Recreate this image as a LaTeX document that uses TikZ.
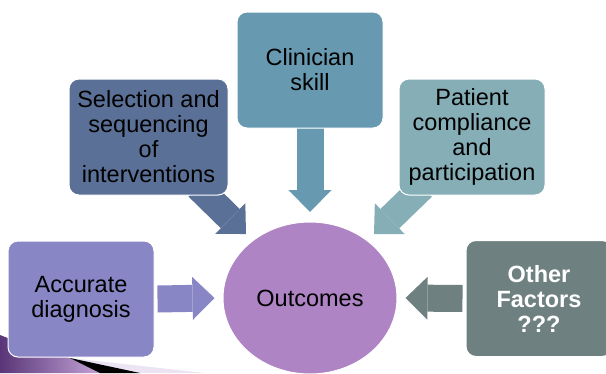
\documentclass[tikz,border=0pt]{standalone}
\usepackage{fontspec}
\setmainfont{Liberation Sans}
\usetikzlibrary{calc,backgrounds,shapes}
\definecolor{selcol}{HTML}{5B7096}
\definecolor{clincol}{HTML}{6799B0}
\definecolor{patcol}{HTML}{85AEB6}
\definecolor{acccol}{HTML}{8986C6}
\definecolor{othcol}{HTML}{6F8080}
\definecolor{outcol}{HTML}{AE84C4}
\definecolor{swdark}{HTML}{5A3578}
\definecolor{swlight}{HTML}{C2A3D6}
\definecolor{swpale}{HTML}{ECE4F3}
% block arrow: colour, tail coordinate, tip coordinate
\def\blockarr#1#2#3{%
  \coordinate (ab) at ($(#3)!22pt!(#2)$);
  \draw[line width=27pt,#1] (#2) -- (ab);
  \fill[#1] ($(ab)!21.5pt!90:(#3)$) -- (#3) -- ($(ab)!21.5pt!-90:(#3)$) -- cycle;}

\begin{document}
\begin{tikzpicture}[x=1pt,y=-1pt,
  box/.style={rectangle, rounded corners=10pt, draw=white, line width=1pt,
    minimum width=146pt, minimum height=116pt, inner sep=0pt, align=center,
    font=\fontsize{23.5}{25}\selectfont}]
\useasboundingbox (0,0) rectangle (606,373);

\node (clin) at (310,70) [box, fill=clincol] {Clinician\\skill};
\node (sel) at (148.5,137) [box, fill=selcol, minimum width=159pt] {Selection and\\sequencing\\of\\interventions};
\node (pat) at (472,137) [box, fill=patcol] {Patient\\compliance\\and\\participation};
\node (acc) at (81,299) [box, fill=acccol] {Accurate\\diagnosis};
\node (oth) at (539,298.5) [box, fill=othcol, text=white, font=\fontsize{23.5}{25}\selectfont\bfseries] {Other\\Factors\\???};
\node (out) at (310,298) [ellipse, fill=outcol, draw=white, line width=1pt,
  minimum width=174pt, minimum height=152pt, inner sep=0pt,
  font=\fontsize{23.5}{25}\selectfont] {Outcomes};

\coordinate (t1) at ($(sel.center)+(49.5,50)$);
\coordinate (h1) at ($(out.center)+(-64,-64)$);
\coordinate (t2) at ($(clin.center)+(0,50)$);
\coordinate (h2) at ($(out.center)+(0,-86)$);
\coordinate (t3) at ($(pat.center)+(-49.5,50)$);
\coordinate (h3) at ($(out.center)+(64,-64)$);
\coordinate (t4) at ($(acc.east)+(3,0)$);
\coordinate (h4) at ($(out.west)+(-8,0)$);
\coordinate (t5) at ($(oth.west)+(-3,0)$);
\coordinate (h5) at ($(out.east)+(8,0)$);

\begin{scope}[on background layer]
% swoosh in the corner
\fill[swpale] (0,345) -- (70,358) -- (205,373) -- (0,373) -- cycle;
\shade[left color=swdark, right color=swlight] (0,335) .. controls (25,345) and (50,352) .. (70,358) -- (100,373) -- (0,373) -- cycle;
\fill[black] (70,358) -- (140,373) -- (100,373) -- cycle;
\blockarr{selcol}{t1}{h1}
\blockarr{clincol}{t2}{h2}
\blockarr{patcol}{t3}{h3}
\blockarr{acccol}{t4}{h4}
\blockarr{othcol}{t5}{h5}
\end{scope}
\end{tikzpicture}
\end{document}
